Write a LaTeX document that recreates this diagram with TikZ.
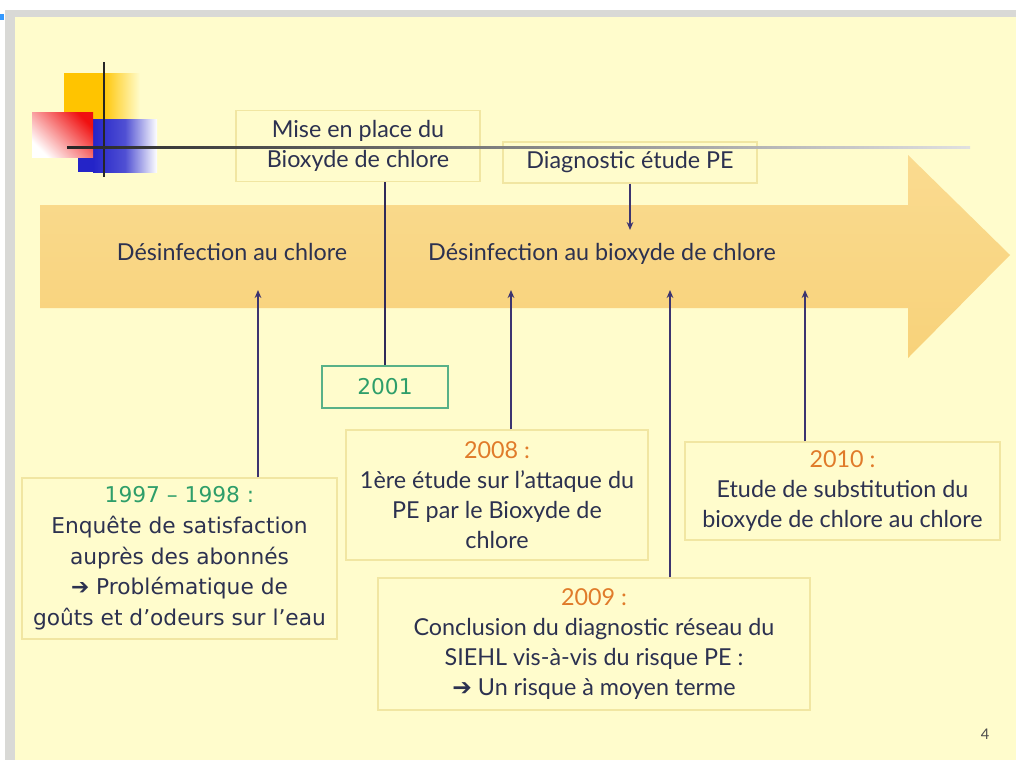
\documentclass[tikz,border=0pt]{standalone}
\usepackage{fontspec}
\setmainfont{Lato}
\newfontfamily\dejavu{DejaVu Sans}
\usetikzlibrary{arrows.meta}
\definecolor{slide}{HTML}{FFFCCC}
\definecolor{frame}{HTML}{D9D9D6}
\definecolor{arrowfill}{HTML}{F8D27A}
\definecolor{arrowtop}{HTML}{FADB90}
\definecolor{boxline}{HTML}{F1E6A2}
\definecolor{ink}{HTML}{2C3150}
\definecolor{conn}{HTML}{3C3470}
\definecolor{yeargreen}{HTML}{2E9E6A}
\definecolor{yearorange}{HTML}{E07B2A}
\definecolor{logoyellow}{HTML}{FFC400}
\definecolor{logoblue}{HTML}{2424C8}
\definecolor{logored}{HTML}{F01010}
\definecolor{markblue}{HTML}{3399FF}
\tikzset{
  box/.style={draw=boxline, line width=1pt, fill=slide, align=center, text=ink, inner sep=0pt,
    font=\fontsize{17.5}{22.5}\selectfont},
  vbox/.style={box, font=\dejavu\fontsize{16.3}{23}\selectfont},
  conn/.style={draw=conn, line width=1.1pt, -{Stealth[length=6pt,width=5pt]}},
  plain/.style={draw=conn!80!black, line width=1.1pt},
  lbl/.style={text=ink, font=\fontsize{17.5}{20}\selectfont, inner sep=0pt, anchor=base}
}
\begin{document}
\begin{tikzpicture}[x=0.75pt,y=-0.75pt]
\useasboundingbox (0,0) rectangle (1016,760);
% page frame
\fill[white] (0,0) rectangle (1016,760);
\fill[frame] (5,10) rectangle (1016,760);
\fill[slide] (15,17) rectangle (1016,760);
\fill[markblue] (0,14) rectangle (4,20);
% logo
\shade[left color=logoyellow, right color=slide, middle color=logoyellow] (64,73) rectangle (140,119);
\shade[left color=logoblue, right color=white, middle color=logoblue!80!white] (93,119) rectangle (157,172);
\fill[logoblue] (78,157) rectangle (93,172);
\shade[top color=logored, bottom color=white, shading angle=-45] (32,112) rectangle (93,157);
% big arrow
\shade[top color=arrowtop, bottom color=arrowfill]
  (40,205) -- (908,205) -- (908,155) -- (1010,255) -- (908,358) -- (908,308) -- (40,308) -- cycle;
% labels on arrow
\node[lbl] (chl) at (232,260) {Désinfection au chlore};
\node[lbl] (bio) at (602,260) {Désinfection au bioxyde de chlore};
% top boxes
\node[box, minimum width=183pt, minimum height=53.25pt] (mise) at (358,146) {Mise en place du\\Bioxyde de chlore};
\node[box, minimum width=190.5pt, minimum height=30.75pt] (diag) at (630,162.5) {Diagnostic étude PE};
% logo lines (drawn over the boxes)
\draw[line width=2pt, black!85] (104,62) -- (104,177);
\shade[left color=black!85, right color=black!12] (67,146.5) rectangle (970,148.8);
% 2001
\node[draw=yeargreen!80, line width=1pt, fill=slide, text=yeargreen, font=\dejavu\fontsize{16.3}{18}\selectfont,
  minimum width=94.5pt, minimum height=31.5pt, inner sep=0pt] (y2001) at (385,387) {2001};
% bottom boxes
\node[vbox, minimum width=236.25pt, minimum height=120.75pt] (b1997) at (179.5,558.5)
  {\textcolor{yeargreen}{1997 – 1998 :}\\Enquête de satisfaction\\auprès des abonnés\\➔ Problématique de\\goûts et d’odeurs sur l’eau};
\node[box, minimum width=226.5pt, minimum height=97.5pt] (b2008) at (497,495)
  {\textcolor{yearorange}{2008 :}\\1ère étude sur l'attaque du\\PE par le Bioxyde de\\chlore};
\node[box, minimum width=324pt, minimum height=99pt] (b2009) at (594,644)
  {\textcolor{yearorange}{2009 :}\\Conclusion du diagnostic réseau du\\SIEHL vis-à-vis du risque PE :\\{\dejavu ➔} Un risque à moyen terme};
\node[box, minimum width=236.25pt, minimum height=73.5pt] (b2010) at (842.5,491)
  {\textcolor{yearorange}{2010 :}\\Etude de substitution du\\bioxyde de chlore au chlore};
% targets on the arrow
\coordinate (a1) at (258,290);
\coordinate (a2) at (511,290);
\coordinate (a3) at (670,290);
\coordinate (a4) at (805,290);
\coordinate (d1) at (630,230);
% connectors
\draw[conn] (b1997.north -| a1) -- (a1);
\draw[conn] (b2008.north -| a2) -- (a2);
\draw[conn] (b2009.north -| a3) -- (a3);
\draw[conn] (b2010.north -| a4) -- (a4);
\draw[conn] (diag.south) -- (d1);
\draw[plain] (mise.south -| y2001.north) -- (y2001.north);
% page number
\node[text=black!70, font=\fontsize{11}{12}\selectfont, inner sep=0pt] (pg) at (985,734) {4};
\end{tikzpicture}
\end{document}
